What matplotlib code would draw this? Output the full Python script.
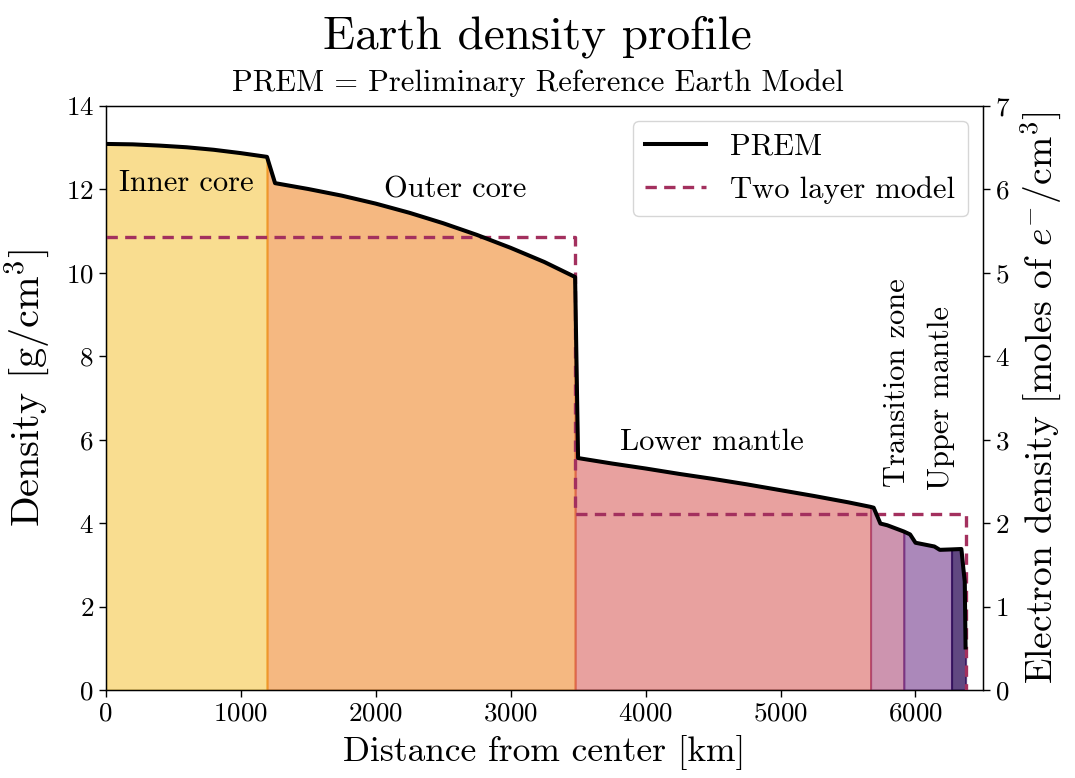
import numpy as np
import matplotlib
matplotlib.use("Agg")
import matplotlib.pyplot as plt

plt.rcParams["font.family"] = ["cmr10"]
plt.rcParams["mathtext.fontset"] = "cm"
plt.rcParams["axes.formatter.use_mathtext"] = True

# PREM density vs. radius, sampled along the curve
radius_km = [0, 200, 400, 600, 800, 1000, 1195, 1255, 1500, 1750, 2000, 2250, 2500,
             2750, 3000, 3250, 3478, 3500, 3750, 4000, 4250, 4500, 4750, 5000, 5250,
             5500, 5667, 5690, 5740, 5790, 5913, 5960, 6000, 6140, 6180, 6267, 6340,
             6355, 6365, 6371]
density = [13.09, 13.08, 13.05, 13.01, 12.95, 12.87, 12.78, 12.15, 12.01, 11.85, 11.66,
           11.44, 11.19, 10.91, 10.60, 10.26, 9.90, 5.56, 5.43, 5.31, 5.18, 5.06, 4.93,
           4.79, 4.65, 4.50, 4.39, 4.37, 3.99, 3.95, 3.80, 3.73, 3.53, 3.44, 3.36, 3.37,
           3.38, 2.90, 2.60, 1.02]

# two layer model: uniform core + uniform mantle
two_layer_r = [0, 3480, 3480, 6371, 6371]
two_layer_rho = [10.85, 10.85, 4.21, 4.21, 0.0]

# layers: name, inner radius, outer radius
layer_names = ["Inner core", "Outer core", "Lower mantle", "Transition zone",
               "Upper mantle", "Crust"]
layer_edges = [0, 1195, 3478, 5667, 5913, 6267, 6371]
layer_colors = ["#f4bd22", "#ec7304", "#d24440", "#9c2a60", "#581276", "#2c0b57"]
layer_alpha = [0.5, 0.5, 0.5, 0.5, 0.5, 0.75]

r = np.array(radius_km, dtype=float)
rho = np.array(density, dtype=float)

fig = plt.figure(figsize=(10.75, 7.78), dpi=100)
ax = fig.add_axes([0.0983, 0.1131, 0.8161, 0.7507])

for i, col in enumerate(layer_colors):
    a, b = layer_edges[i], layer_edges[i + 1]
    m = (r >= a) & (r <= b)
    ax.fill_between(r[m], rho[m], 0, facecolor=col, edgecolor=col,
                    alpha=layer_alpha[i], lw=1.5, zorder=1)

ax.plot(two_layer_r, two_layer_rho, color="#a3305e", lw=2.4, ls=(0, (3.4, 2.2)),
        label="Two layer model", zorder=3)
ax.plot(r, rho, color="k", lw=2.9, label="PREM", zorder=4)

# region labels
ax.text(600, 12.15, "Inner core", ha="center", va="center", fontsize=22)
ax.text(2590, 12.0, "Outer core", ha="center", va="center", fontsize=22)
ax.text(4490, 5.95, "Lower mantle", ha="center", va="center", fontsize=22)
ax.text(5865, 4.87, "Transition zone", rotation=90, ha="center", va="bottom", fontsize=22)
ax.text(6190, 4.8, "Upper mantle", rotation=90, ha="center", va="bottom", fontsize=22)

ax.set_xlim(0, 6500)
ax.set_ylim(0, 14)
ax.set_xticks(range(0, 7000, 1000))
ax.set_yticks(range(0, 15, 2))
ax.tick_params(labelsize=19.5, width=1.0, length=5)
for s in ax.spines.values():
    s.set_linewidth(1.0)
ax.set_xlabel("Distance from center [km]", fontsize=25.5, labelpad=7)
ax.set_ylabel("Density [g/cm$^3$]", fontsize=29)
ax.yaxis.set_label_coords(-0.061, 0.517)

axr = ax.twinx()
axr.set_ylim(0, 7)
axr.set_yticks(range(0, 8))
axr.tick_params(labelsize=19.5, width=1.0, length=5)
axr.set_ylabel("Electron density [moles of $e^{-}$/cm$^3$]", fontsize=27, labelpad=6)

h, l = ax.get_legend_handles_labels()
ax.legend(h[::-1], l[::-1], loc="upper right", fontsize=22, handlelength=2.0)

fig.text(0.5, 0.953, "Earth density profile", ha="center", va="center", fontsize=34)
fig.text(0.5, 0.8935, "PREM = Preliminary Reference Earth Model", ha="center",
         va="center", fontsize=22)

fig.savefig("out.png", dpi=100)
